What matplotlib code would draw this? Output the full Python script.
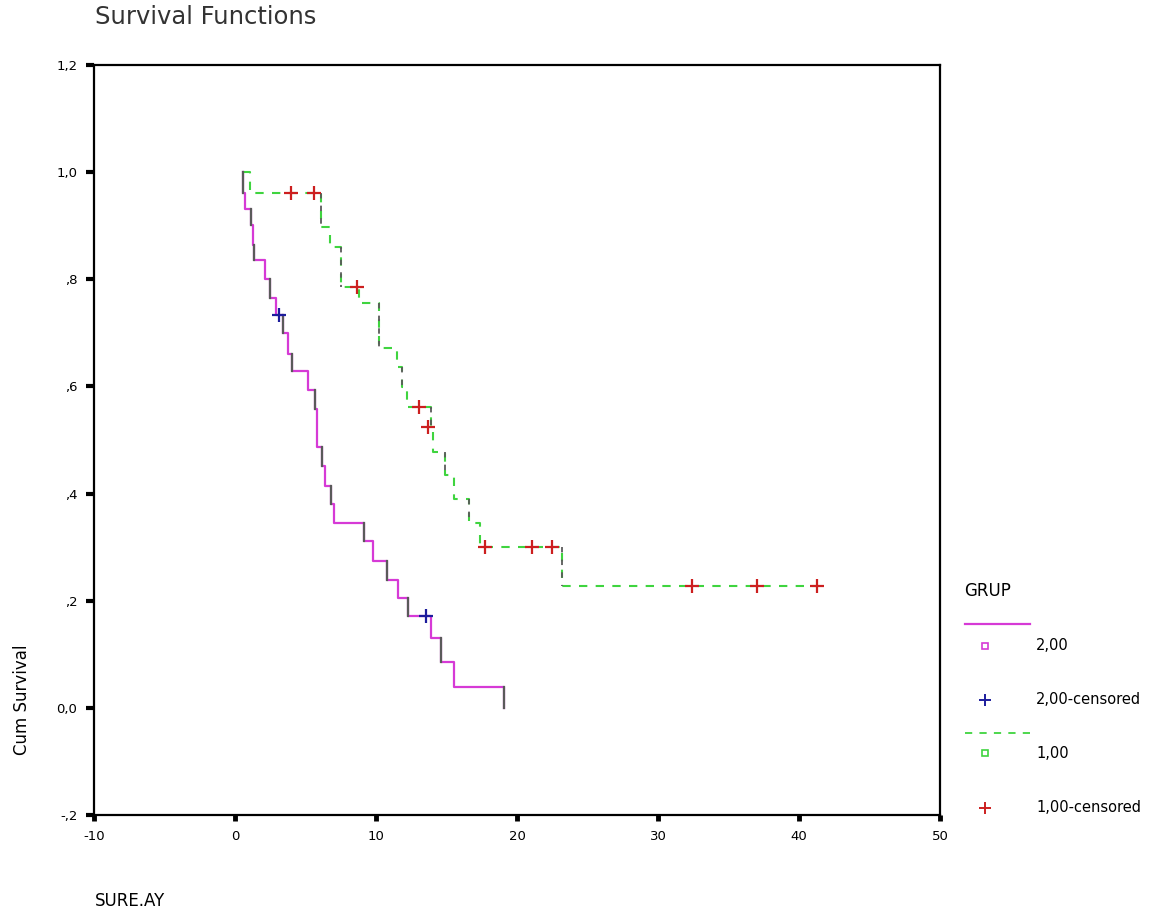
import matplotlib.pyplot as plt
from matplotlib.lines import Line2D

# ---- data (SPSS Kaplan-Meier plot) ----
line_start = 0.57

# GRUP 2,00 : event times and survival after each drop
grp2_times = [0.57, 0.71, 1.16, 1.30, 1.35, 2.11, 2.48, 2.89, 3.43, 3.76, 4.06,
              5.20, 5.67, 5.84, 6.19, 6.38, 6.79, 7.02, 9.15, 9.79, 10.80,
              11.58, 12.29, 13.92, 14.59, 15.53, 19.08]
grp2_surv = [0.962, 0.932, 0.901, 0.864, 0.836, 0.801, 0.766, 0.733, 0.700,
             0.661, 0.629, 0.593, 0.558, 0.487, 0.452, 0.415, 0.381, 0.346,
             0.312, 0.275, 0.239, 0.206, 0.171, 0.130, 0.085, 0.039, 0.0]
grp2_cens_t = [3.12, 13.52]
grp2_cens_s = [0.733, 0.171]

# GRUP 1,00
grp1_times = [1.03, 6.08, 6.74, 7.50, 8.79, 10.21, 11.51, 11.84, 12.20, 13.90,
              14.05, 14.89, 15.53, 16.60, 17.38, 23.19]
grp1_surv = [0.962, 0.898, 0.860, 0.786, 0.755, 0.671, 0.636, 0.599, 0.561,
             0.524, 0.477, 0.434, 0.390, 0.346, 0.300, 0.228]
grp1_end = 41.25
grp1_cens_t = [3.97, 5.60, 8.67, 13.05, 13.70, 17.70, 21.09, 22.50, 32.43, 37.00, 41.25]
grp1_cens_s = [0.962, 0.962, 0.786, 0.561, 0.524, 0.300, 0.300, 0.300, 0.228, 0.228, 0.228]

x_ticks = [-10, 0, 10, 20, 30, 40, 50]
x_labels = ['-10', '0', '10', '20', '30', '40', '50']
y_ticks = [-0.2, 0.0, 0.2, 0.4, 0.6, 0.8, 1.0, 1.2]
y_labels = ['-,2', '0,0', ',2', ',4', ',6', ',8', '1,0', '1,2']

# ---- colours ----
c_mag = '#d63ad6'
c_grey = '#5a5a5a'
c_green = '#3fd43f'
c_red = '#cc1f1f'
c_blue = '#1c1c9c'

W, H = 1152, 918


def fx(px):
    return px / W


def fy(py):
    return 1 - py / H


fig = plt.figure(figsize=(W / 100, H / 100), dpi=100)
ax = fig.add_axes([fx(94), fy(815), (940 - 94) / W, (815 - 65) / H])

# group 2 : solid magenta, some drops grey
xs2 = [line_start] + grp2_times
ys2 = [1.0] + grp2_surv
ax.step(xs2, ys2, where='post', color=c_mag, lw=1.6, zorder=3)
prev = [1.0] + grp2_surv[:-1]
for i in range(0, len(grp2_times), 2):
    ax.plot([grp2_times[i], grp2_times[i]], [prev[i], grp2_surv[i]],
            color=c_grey, lw=1.6, zorder=4)

# group 1 : dashed green, some drops grey
xs1 = [line_start] + grp1_times + [grp1_end]
ys1 = [1.0] + grp1_surv + [grp1_surv[-1]]
ax.step(xs1, ys1, where='post', color=c_green, lw=1.5, dashes=(4, 4), zorder=3)
prev1 = [1.0] + grp1_surv[:-1]
for i in range(1, len(grp1_times), 2):
    ax.plot([grp1_times[i], grp1_times[i]], [prev1[i], grp1_surv[i]],
            color=c_grey, lw=1.3, dashes=(3, 4), zorder=4)

# censored marks
ax.plot(grp2_cens_t, grp2_cens_s, ls='none', marker='+', ms=10, mew=1.6,
        color=c_blue, zorder=5)
ax.plot(grp1_cens_t, grp1_cens_s, ls='none', marker='+', ms=10, mew=1.6,
        color=c_red, zorder=5)

ax.set_xlim(-10, 50)
ax.set_ylim(-0.2, 1.2)
ax.set_xticks(x_ticks)
ax.set_xticklabels(x_labels)
ax.set_yticks(y_ticks)
ax.set_yticklabels(y_labels)
ax.tick_params(axis='y', direction='out', length=6, width=3, labelsize=9.5, pad=6)
ax.tick_params(axis='x', direction='out', length=4, width=3.5, labelsize=9.5, pad=7)
for s in ax.spines.values():
    s.set_linewidth(1.6)
    s.set_color('black')

# texts
fig.text(fx(95), fy(17), 'Survival Functions', fontsize=17.5, color='#333333',
         ha='left', va='center')
fig.text(fx(22), fy(700), 'Cum Survival', rotation=90, fontsize=12,
         ha='center', va='center')
fig.text(fx(95), fy(901), 'SURE.AY', fontsize=12, ha='left', va='center')

# legend drawn by hand
fig.text(fx(964), fy(591), 'GRUP', fontsize=12, ha='left', va='center')
fig.add_artist(Line2D([fx(965), fx(1030)], [fy(624), fy(624)], color=c_mag,
                      lw=1.6, transform=fig.transFigure))
fig.add_artist(Line2D([fx(985)], [fy(646)], ls='none', marker='s', ms=5,
                      mfc='none', mec=c_mag, mew=1.2, transform=fig.transFigure))
fig.text(fx(1036), fy(646), '2,00', fontsize=10.5, ha='left', va='center')
fig.add_artist(Line2D([fx(985)], [fy(700)], ls='none', marker='+', ms=8,
                      mew=1.4, color=c_blue, transform=fig.transFigure))
fig.text(fx(1036), fy(700), '2,00-censored', fontsize=10.5, ha='left', va='center')
fig.add_artist(Line2D([fx(965), fx(1032)], [fy(733), fy(733)], color=c_green,
                      lw=1.3, dashes=(4, 4), transform=fig.transFigure))
fig.add_artist(Line2D([fx(985)], [fy(753)], ls='none', marker='s', ms=5,
                      mfc='none', mec=c_green, mew=1.2, transform=fig.transFigure))
fig.text(fx(1036), fy(753), '1,00', fontsize=10.5, ha='left', va='center')
fig.add_artist(Line2D([fx(985)], [fy(808)], ls='none', marker='+', ms=8,
                      mew=1.4, color=c_red, transform=fig.transFigure))
fig.text(fx(1036), fy(808), '1,00-censored', fontsize=10.5, ha='left', va='center')

fig.savefig('out.png', dpi=100)
